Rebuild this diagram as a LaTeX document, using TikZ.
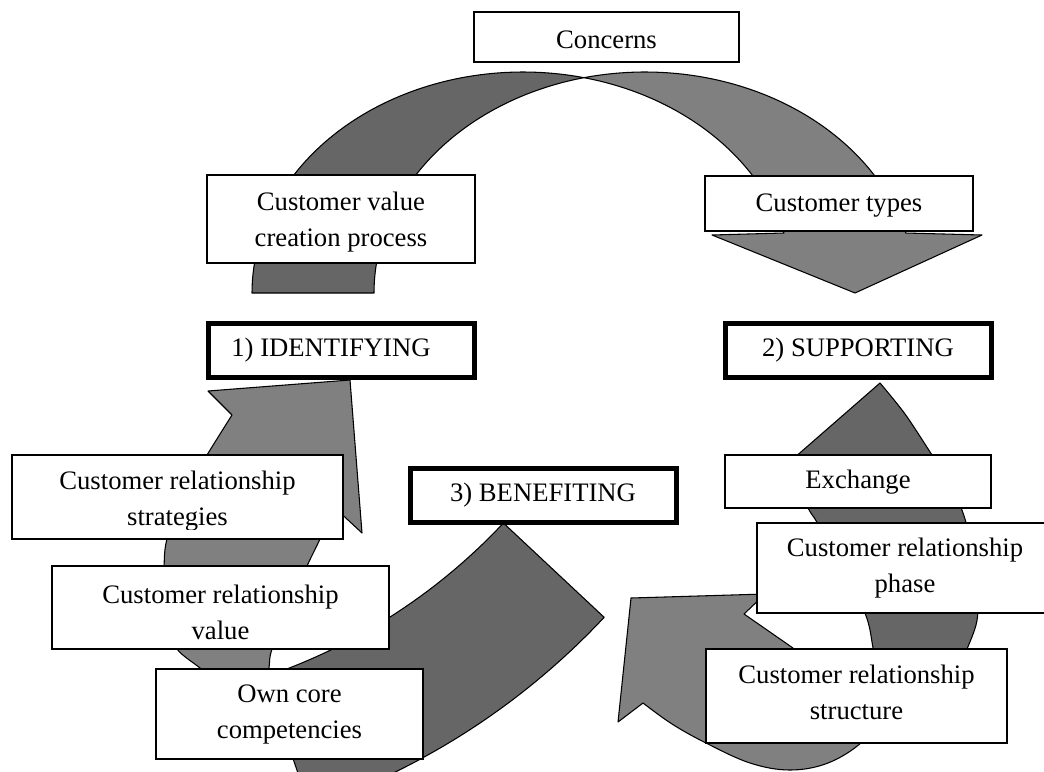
\documentclass[tikz,border=0pt]{standalone}
\usepackage{fontspec}
\setmainfont{Liberation Serif}
\usetikzlibrary{fit}
\definecolor{bandlight}{HTML}{808080}
\definecolor{banddark}{HTML}{666666}
\begin{document}
\begin{tikzpicture}[x=0.75pt, y=-0.75pt,
  label box/.style={draw=black, line width=1pt, fill=white, inner sep=0pt},
  stage box/.style={draw=black, line width=3.75pt, fill=white, inner sep=0pt},
  caption/.style={font=\fontsize{20}{27}\selectfont, align=center, inner sep=0pt},
  light band/.style={fill=bandlight, draw=black, line width=0.8pt, line join=round},
  dark band/.style={fill=banddark, draw=black, line width=0.8pt, line join=round},
]
\useasboundingbox (0,0) rectangle (1044,771);

\begin{scope}
\clip (0,0) rectangle (1044,771);

% upper arc: back face (dark), from the tail up to where the two edges cross
\filldraw[dark band]
  plot[domain=180:77, samples=80, variable=\t] ({523+271*cos(\t)}, {293-221*sin(\t)})
  -- plot[domain=103:180, samples=80, variable=\t] ({645+271*cos(\t)}, {293-221*sin(\t)})
  -- cycle;

% upper arc: front face (light) with the head pointing down
\filldraw[light band]
  plot[domain=103:15.75, samples=80, variable=\t] ({645+271*cos(\t)}, {293-221*sin(\t)})
  -- (982,235) -- (855,293) -- (712,235) -- (784,233)
  -- plot[domain=15.75:77, samples=80, variable=\t] ({523+271*cos(\t)}, {293-221*sin(\t)})
  -- cycle;

% left arrow rising towards stage 1
\filldraw[light band]
  (350,380) -- (362,533) -- (334,507)
  -- plot[smooth, tension=0.6] coordinates {(334,507) (320,539) (307,566) (289,607) (272,649) (269,668) (266,690)}
  -- plot[smooth, tension=0.6] coordinates {(225,688) (200,668) (177,649) (167,625) (163,595) (164,566) (167,539) (182,497) (207,455) (232,415)}
  -- (208,391) -- cycle;

% lower band ending under stage 3
\filldraw[dark band]
  plot[domain=43.1:71.2, samples=60, variable=\t] ({77+584*cos(\t)}, {124+584*sin(\t)})
  -- plot[domain=71.2:43.1, samples=60, variable=\t] ({77+722*cos(\t)}, {124+722*sin(\t)})
  -- cycle;

% right loop: light face with the head pointing up-left
\filldraw[light band]
  (631,598) -- (765,594) -- (744,614) -- (793,648) -- (835,695)
  -- plot[smooth, tension=0.6] coordinates {(885,712) (862,742) (828,763) (790,770) (750,763) (706,743) (672,724) (643,703)}
  -- (618,722) -- cycle;

% right loop: dark face running up to stage 2
\filldraw[dark band]
  (880,383) -- (786,465)
  -- plot[smooth, tension=0.6] coordinates {(786,465) (808,508) (818,524) (842,568) (865,613) (873,648) (880,700)}
  -- plot[smooth, tension=0.5] coordinates {(945,700) (967,649) (976,625) (978,605) (975,570) (968,530) (960,505) (948,480) (932,455) (905,414) (880,383)}
  -- cycle;
\end{scope}

% label boxes
\node[label box, fit={(474,12) (739,62)}] (concerns) {};
\node[caption] (concerns-text) at (606.5,40) {Concerns};

\node[label box, fit={(207,175) (475,263)}] (valueprocess) {};
\node[caption] (valueprocess-text) at (341,222.5) {Customer value\\creation process};

\node[label box, fit={(705,176) (973,231)}] (types) {};
\node[caption] (types-text) at (839,206) {Customer types};

\node[stage box, fit={(208,323) (474,377)}] (identifying) {};
\node[caption] (identifying-text) at (331,350) {1) IDENTIFYING};

\node[stage box, fit={(725,323) (991,377)}] (supporting) {};
\node[caption] (supporting-text) at (858,350) {2) SUPPORTING};

\node[stage box, fit={(410,468) (676,522)}] (benefiting) {};
\node[caption] (benefiting-text) at (543,495) {3) BENEFITING};

\node[label box, fit={(12,455) (343,539)}] (strategies) {};
\begin{scope}
  \clip (12,455) rectangle (343,529);
  \node[caption] (strategies-text) at (177.5,501) {Customer relationship\\strategies};
\end{scope}

\node[label box, fit={(52,566) (389,649)}] (relvalue) {};
\node[caption] (relvalue-text) at (220.5,612) {Customer relationship\\value};

\node[label box, fit={(156,669) (423,759)}] (core) {};
\node[caption] (core-text) at (289.5,714.5) {Own core\\competencies};

\node[label box, fit={(725,455) (991,508)}] (exchange) {};
\node[caption] (exchange-text) at (858,482) {Exchange};

\node[label box, fit={(757,523) (1053,613)}] (phase) {};
\node[caption] (phase-text) at (905,568.5) {Customer relationship\\phase};

\node[label box, fit={(706,649) (1007,743)}] (structure) {};
\node[caption] (structure-text) at (856.5,692.5) {Customer relationship\\structure};
\end{tikzpicture}
\end{document}
